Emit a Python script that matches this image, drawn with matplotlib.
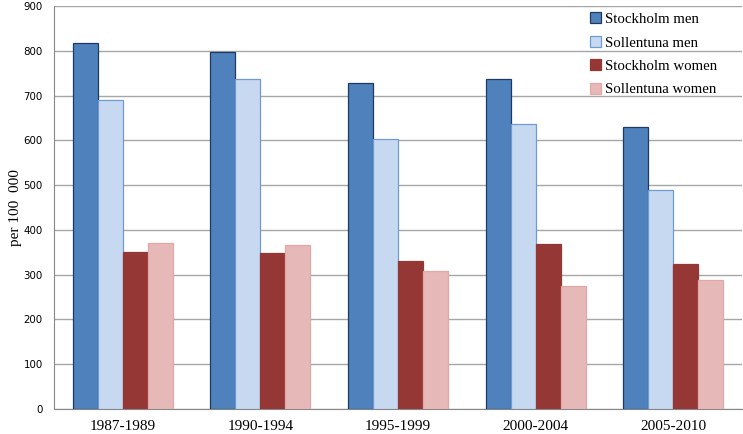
import numpy as np
import matplotlib.pyplot as plt

periods = ['1987-1989', '1990-1994', '1995-1999', '2000-2004', '2005-2010']
series = ['Stockholm men', 'Sollentuna men', 'Stockholm women', 'Sollentuna women']
stockholm_men = [818, 797, 728, 737, 630]
sollentuna_men = [690, 736, 603, 637, 489]
stockholm_women = [350, 348, 330, 368, 324]
sollentuna_women = [371, 366, 309, 275, 288]

values = [stockholm_men, sollentuna_men, stockholm_women, sollentuna_women]
fills = ['#4F81BD', '#C6D9F1', '#953735', '#E6B9B8']
edges = ['#1F3A60', '#6F9BD2', '#953735', '#E0A8A7']

fig = plt.figure(figsize=(7.43, 4.34), dpi=100)
ax = fig.add_axes([54/743, 25/434, 688/743, 403/434])

x = np.arange(len(periods))
w = 0.182
for i in range(4):
    ax.bar(x + (i - 1.5) * w, values[i], w, color=fills[i], edgecolor=edges[i],
           linewidth=0.9, label=series[i], zorder=3)

ax.set_xlim(-0.5, len(periods) - 0.5)
ax.set_ylim(0, 900)
ax.set_yticks(range(0, 901, 100))
ax.yaxis.grid(True, color='#A6A6A6', linewidth=1.0, zorder=0)
ax.set_xticks(x)
ax.set_xticklabels(periods, family='Liberation Serif', fontsize=11)
ax.tick_params(axis='y', labelsize=7.4, length=0, pad=8)
ax.tick_params(axis='x', length=0, pad=8)
for lbl in ax.get_yticklabels():
    lbl.set_family('DejaVu Sans')
for s in ['top', 'right']:
    ax.spines[s].set_visible(False)
for s in ['left', 'bottom']:
    ax.spines[s].set_color('#878787')
ax.set_ylabel('per 100  000', family='Liberation Serif', fontsize=11)
ax.yaxis.set_label_coords(-32/688, 0.5)

leg = ax.legend(loc='upper right', bbox_to_anchor=((717 - 54)/688, 0.984),
                borderaxespad=0, borderpad=0, frameon=False,
                prop={'family': 'Liberation Serif', 'size': 10.7},
                handlelength=0.75, handleheight=0.75, handletextpad=0.25,
                labelspacing=0.66)

fig.savefig('out.png', dpi=100)
